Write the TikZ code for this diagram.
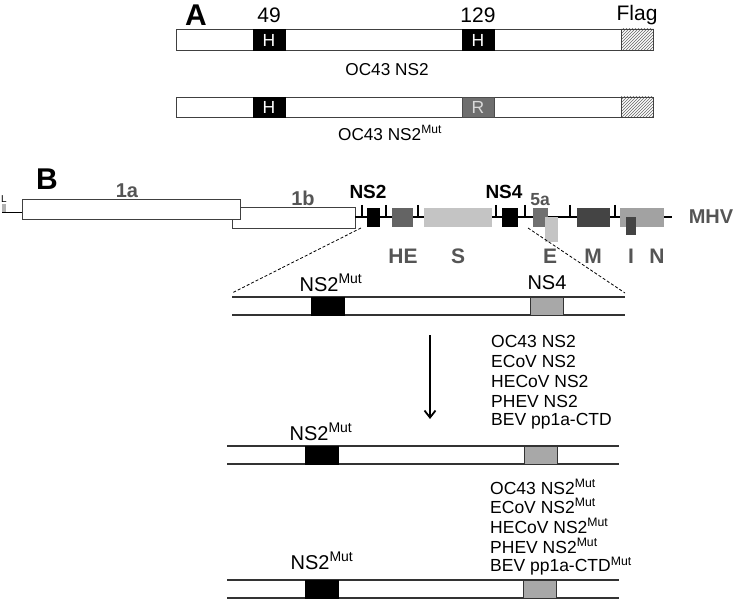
\documentclass[tikz,border=0pt]{standalone}
\usepackage{fontspec}
\setmainfont{Liberation Sans}
\usetikzlibrary{patterns,arrows.meta}
\definecolor{lbl}{HTML}{555555}
\definecolor{heC}{HTML}{646464}
\definecolor{sC}{HTML}{C4C4C4}
\definecolor{fiveC}{HTML}{707070}
\definecolor{mC}{HTML}{444444}
\definecolor{nC}{HTML}{A2A2A2}
\definecolor{nsfourC}{HTML}{A8A8A8}
\definecolor{rC}{HTML}{6E6E6E}
\begin{document}
\begin{tikzpicture}[x=1pt,y=-1pt,
  bar/.style={draw=black!75,line width=0.9pt,fill=white},
  blk/.style={fill=black,draw=black,line width=0.6pt},
  hatch/.style={draw=black!75,line width=0.8pt,pattern=north east lines,pattern color=black!60},
  tick/.style={line width=2pt},
  cline/.style={line width=1.1pt,draw=black!80},
  grbox/.style={fill=nsfourC,draw=black!80,line width=0.8pt},
  txt/.style={font=\fontsize{17.2}{19}\selectfont,inner sep=0pt},
  big/.style={font=\fontsize{21}{23}\selectfont,inner sep=0pt},
  cbig/.style={font=\fontsize{20}{22}\selectfont,inner sep=0pt},
  glbl/.style={font=\fontsize{21}{23}\selectfont\bfseries,text=lbl,inner sep=0pt},
  panel/.style={font=\fontsize{30}{32}\selectfont\bfseries,inner sep=0pt},
  boxtxt/.style={font=\fontsize{17.5}{18}\selectfont,inner sep=0pt},
  lst/.style={font=\fontsize{17.5}{19}\selectfont,inner sep=0pt,anchor=west}
]
\useasboundingbox (0,0) rectangle (733,601);
% ---------- Panel A ----------
\node[panel] (A) at (196,15) {A};
\node[big] (n49) at (269,15) {49};
\node[big] (n129) at (478,15) {129};
\node[big] (flag) at (637,15) {Flag};
\draw[bar] (176,29) rectangle (653,50);
\draw[blk] (253,29) rectangle (285,50);
\node[boxtxt,text=white] (h1) at (269,40) {H};
\draw[blk] (462,29) rectangle (494,50);
\node[boxtxt,text=white] (h2) at (478,40) {H};
\draw[hatch] (621,29) rectangle (653,50);
\node[txt] (oc1) at (387,70) {OC43 NS2};
\draw[bar] (176,97) rectangle (653,117);
\draw[blk] (253,97) rectangle (285,117);
\node[boxtxt,text=white] (h3) at (269,107.5) {H};
\draw[fill=rC,draw=black!70,line width=0.6pt] (462,97) rectangle (494,117);
\node[boxtxt,text=black!15] (r1) at (478,107.5) {R};
\draw[hatch] (621,97) rectangle (653,117);
\node[txt] (oc2) at (390,133) {OC43 NS2\textsuperscript{Mut}};
% ---------- Panel B genome ----------
\node[panel] (B) at (47,179) {B};
\node[font=\fontsize{10}{11}\selectfont,inner sep=0pt] (Lt) at (4,199) {L};
\fill[black!30] (2,204) rectangle (6,212);
\draw[line width=1.1pt] (2,212.5) -- (22,212.5);
\draw[bar,line width=0.8pt] (232,207) rectangle (355,228);
\draw[bar,line width=0.8pt] (22,199) rectangle (240,219);
\node[font=\fontsize{20}{22}\selectfont\bfseries,text=lbl,inner sep=0pt] (l1a) at (127,191) {1a};
\node[font=\fontsize{20}{22}\selectfont\bfseries,text=lbl,inner sep=0pt] (l1b) at (303,198) {1b};
\draw[line width=1.4pt] (355,217) -- (672,217);
\foreach \t in {362,386,418,496,525,570,615}
  \draw[tick] (\t,205) -- (\t,217);
\fill[black] (367,208) rectangle (380,227);
\fill[heC] (392,208) rectangle (413,227);
\fill[sC] (424,208) rectangle (492,227);
\fill[black] (502,208) rectangle (518,227);
\fill[fiveC] (533,208) rectangle (548,227);
\fill[sC] (545,217) rectangle (558,242);
\fill[mC] (577,208) rectangle (610,227);
\fill[nC] (620,208) rectangle (664,227);
\fill[mC] (626,217) rectangle (636,235);
\node[font=\fontsize{19}{21}\selectfont\bfseries,inner sep=0pt] (ns2) at (368,192) {NS2};
\node[font=\fontsize{19}{21}\selectfont\bfseries,inner sep=0pt] (ns4) at (504,192) {NS4};
\node[font=\fontsize{17.5}{19}\selectfont\bfseries,text=lbl,inner sep=0pt] (l5a) at (540,200) {5a};
\node[font=\fontsize{20}{22}\selectfont\bfseries,text=lbl,inner sep=0pt] (mhv) at (711,217) {MHV};
\node[glbl] (lHE) at (403,256) {HE};
\node[glbl] (lS) at (458,256) {S};
\node[glbl] (lE) at (550,256) {E};
\node[glbl] (lM) at (593,256) {M};
\node[glbl] (lI) at (631,256) {I};
\node[glbl] (lN) at (657,256) {N};
% zoom lines
\coordinate (zl1) at (361,228);
\coordinate (zl2) at (232,293);
\coordinate (zr1) at (528,228);
\coordinate (zr2) at (625,293);
\draw[line width=0.8pt,dash pattern=on 3pt off 2pt] (zl1) -- (zl2);
\draw[line width=0.8pt,dash pattern=on 3pt off 2pt] (zr1) -- (zr2);
% ---------- construct 1 ----------
\draw[cline] (232,297) -- (625,297);
\draw[cline] (232,315) -- (625,315);
\draw[blk] (311,297) rectangle (344,315);
\draw[grbox] (530,297) rectangle (563,315);
\node[cbig] (c1a) at (331,283) {NS2\textsuperscript{Mut}};
\node[cbig] (c1b) at (547,283) {NS4};
% arrow
\coordinate (ar1) at (430,335);
\coordinate (ar2) at (430,419);
\draw[line width=1.8pt,-{Straight Barb[length=7pt,width=11pt]}] (ar1) -- (ar2);
% list 1
\node[lst] (a1) at (491,341) {OC43 NS2};
\node[lst] (a2) at (491,361) {ECoV NS2};
\node[lst] (a3) at (491,381) {HECoV NS2};
\node[lst] (a4) at (491,401) {PHEV NS2};
\node[lst] (a5) at (491,421) {BEV pp1a-CTD};
% ---------- construct 2 ----------
\draw[cline] (227,446) -- (619,446);
\draw[cline] (227,464) -- (619,464);
\draw[blk] (305,446) rectangle (338,464);
\draw[grbox] (524,446) rectangle (557,464);
\node[cbig] (c2a) at (321,432) {NS2\textsuperscript{Mut}};
% list 2
\node[lst] (b1) at (490,487) {OC43 NS2\textsuperscript{Mut}};
\node[lst] (b2) at (490,506) {ECoV NS2\textsuperscript{Mut}};
\node[lst] (b3) at (490,526) {HECoV NS2\textsuperscript{Mut}};
\node[lst] (b4) at (490,546) {PHEV NS2\textsuperscript{Mut}};
\node[lst] (b5) at (490,566) {BEV pp1a-CTD\textsuperscript{Mut}};
% ---------- construct 3 ----------
\draw[cline] (227,580) -- (619,580);
\draw[cline] (227,598) -- (619,598);
\draw[blk] (305,580) rectangle (338,598);
\draw[grbox] (523,580) rectangle (556,598);
\node[cbig] (c3a) at (322,561) {NS2\textsuperscript{Mut}};
\end{tikzpicture}
\end{document}
